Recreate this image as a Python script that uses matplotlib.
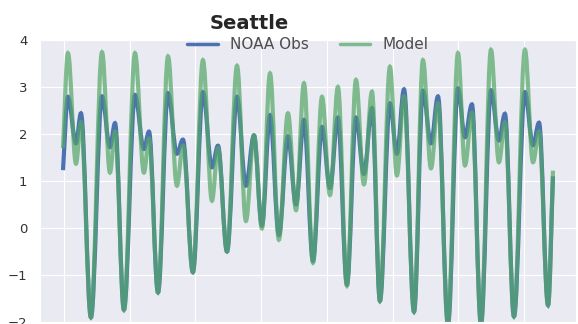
import matplotlib
matplotlib.use('Agg')
import matplotlib.pyplot as plt
import seaborn as sns
from matplotlib.path import Path
from matplotlib.patches import PathPatch
from matplotlib.lines import Line2D

# Turning points of the water level (highs and lows), hours from start
hours = [-0.7, 2.9, 8.8, 12.4, 19.7, 27.8, 33.6, 37.3, 43.8, 51.9,
         58.4, 62.1, 68.7, 76.0, 82.5, 86.9, 94.2, 101.5, 108.1, 112.5,
         119.1, 126.4, 132.9, 138.8, 144.6, 150.5, 157.0, 163.6, 169.5, 175.3,
         181.9, 188.5, 194.3, 200.1, 206.7, 213.3, 219.1, 225.0, 230.8, 238.1,
         243.2, 248.4, 255.7, 262.2, 268.1, 273.2, 280.5, 287.8, 292.9, 298.0,
         304.6, 311.9, 317.7, 322.1, 328.7, 336.7, 342.6, 347.0, 353.6, 357.2]

# water level (m), observed
noaa_obs = [1.23, 2.79, 1.80, 2.44, -1.90, 2.80, 1.72, 2.23, -1.74, 2.83,
            1.68, 2.05, -1.37, 2.87, 1.58, 1.88, -0.94, 2.89, 1.29, 1.75,
            -0.50, 2.79, 0.90, 1.97, 0.05, 2.40, -0.15, 1.95, 0.50, 2.30,
            -0.70, 2.15, 0.85, 2.35, -1.20, 2.35, 1.15, 2.55, -1.55, 2.65,
            1.58, 2.95, -1.78, 2.92, 1.80, 2.80, -2.05, 2.97, 1.93, 2.63,
            -2.05, 2.93, 1.86, 2.43, -1.88, 2.89, 1.76, 2.24, -1.64, 1.10]

# water level (m), model run
model = [1.70, 3.72, 1.37, 2.25, -1.90, 3.74, 1.18, 2.05, -1.74, 3.72,
         1.18, 1.90, -1.37, 3.65, 0.90, 1.75, -0.94, 3.57, 0.58, 1.70,
         -0.50, 3.45, 0.15, 1.97, -0.01, 3.29, -0.25, 2.44, 0.38, 3.08,
         -0.74, 2.79, 0.70, 3.00, -1.23, 3.15, 0.93, 2.90, -1.55, 3.43,
         1.12, 2.80, -1.78, 3.57, 1.27, 2.65, -2.05, 3.72, 1.33, 2.45,
         -2.05, 3.79, 1.40, 2.25, -1.88, 3.79, 1.40, 2.05, -1.64, 1.22]

BLUE = '#4C72B0'
GREEN = '#55A868'
LW = 3.0


def tide_path(t, v, k=0.364):
    """Smooth curve through the turning points (flat tangent at each one)."""
    verts = [(t[0], v[0])]
    codes = [Path.MOVETO]
    n = len(t)
    for i in range(n - 1):
        t0, v0, t1, v1 = t[i], v[i], t[i + 1], v[i + 1]
        dt = t1 - t0
        if i == 0:
            c1 = (t0 + dt / 3, v0 + (v1 - v0) / 3)
        else:
            c1 = (t0 + k * dt, v0)
        if i == n - 2:
            c2 = (t1 - dt / 3, v1 - (v1 - v0) / 3)
        else:
            c2 = (t1 - k * dt, v1)
        verts += [c1, c2, (t1, v1)]
        codes += [Path.CURVE4] * 3
    return Path(verts, codes)


sns.set_style('darkgrid')
plt.rcParams['font.family'] = ['DejaVu Sans']

fig = plt.figure(figsize=(5.78, 3.24), dpi=100)
ax = fig.add_axes([0.0692, 0.0062, 0.9273, 0.8704])

ax.add_patch(PathPatch(tide_path(hours, noaa_obs), facecolor='none',
                       edgecolor=BLUE, lw=LW))
ax.add_patch(PathPatch(tide_path(hours, model), facecolor='none',
                       edgecolor=GREEN, lw=LW, alpha=0.72))

ax.set_xlim(-17.5, 374)
ax.set_ylim(-2, 4)
ax.set_xticks(range(0, 360, 48))
ax.set_yticks(range(-2, 5))
ax.tick_params(axis='x', labelbottom=False, length=0)
ax.tick_params(axis='y', length=0, pad=9, labelsize=9.5, labelcolor='.2')

ax.set_title('Seattle', x=0.39, fontsize=14, fontweight='bold', pad=8)

handles = [Line2D([], [], color=BLUE, lw=2.5),
           Line2D([], [], color=GREEN, lw=2.5, alpha=0.72)]
ax.legend(handles, ['NOAA Obs', 'Model'], loc='upper center', ncol=2,
          frameon=False, fontsize=11, borderaxespad=0, borderpad=0,
          bbox_to_anchor=(0.5, 1.01), labelcolor='.3')

fig.savefig('out.png', dpi=100)
